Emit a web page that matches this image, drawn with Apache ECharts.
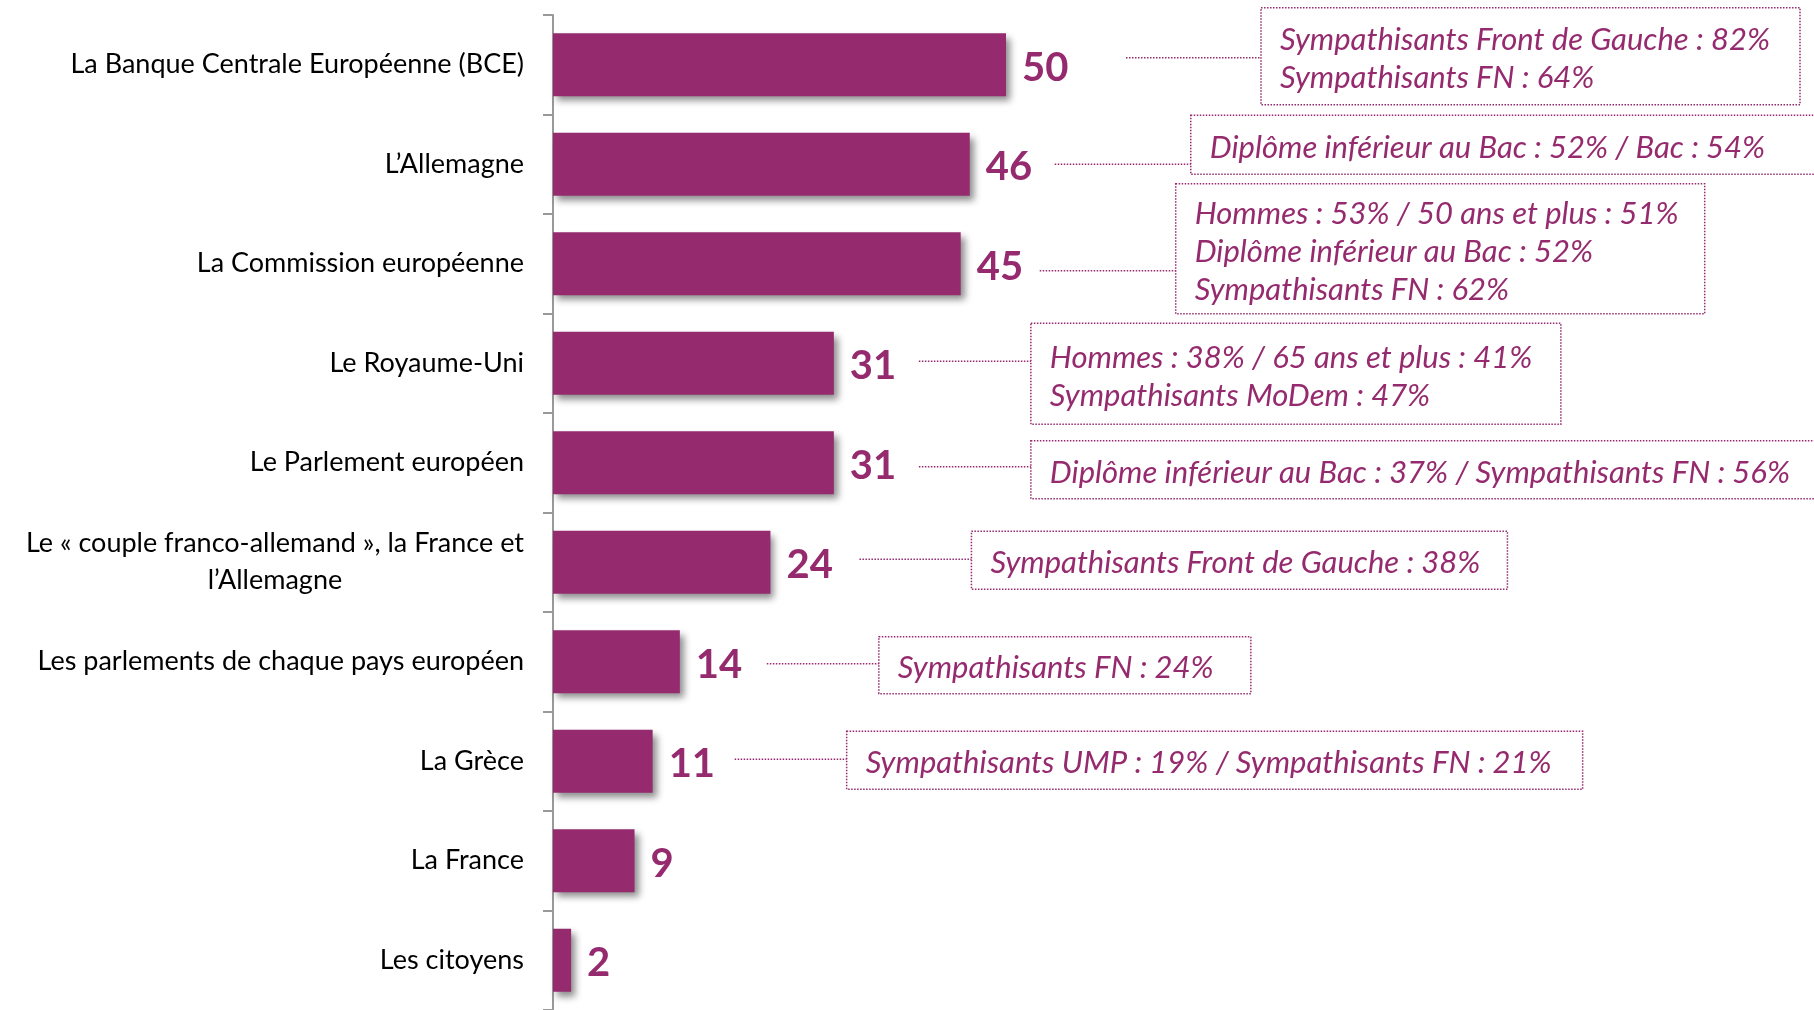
<!DOCTYPE html>
<html>
<head>
<meta charset="utf-8">
<script src="https://cdn.jsdelivr.net/npm/echarts@6/dist/echarts.min.js"></script>
<style>
  html, body { margin: 0; padding: 0; background: #fff; }
  #main { width: 1814px; height: 1010px; }
</style>
</head>
<body>
<div id="main"></div>
<script>
var categories = [
  'La Banque Centrale Européenne (BCE)',
  'L’Allemagne',
  'La Commission européenne',
  'Le Royaume-Uni',
  'Le Parlement européen',
  'Le « couple franco-allemand », la France et\nl’Allemagne',
  'Les parlements de chaque pays européen',
  'La Grèce',
  'La France',
  'Les citoyens'
];
var values = [50, 46, 45, 31, 31, 24, 14, 11, 9, 2];
var notes = [
  ['Sympathisants Front de Gauche : 82%', 'Sympathisants FN : 64%'],
  ['Diplôme inférieur au Bac : 52% / Bac : 54%'],
  ['Hommes : 53% / 50 ans et plus : 51%', 'Diplôme inférieur au Bac : 52%', 'Sympathisants FN : 62%'],
  ['Hommes : 38% / 65 ans et plus : 41%', 'Sympathisants MoDem : 47%'],
  ['Diplôme inférieur au Bac : 37% / Sympathisants FN : 56%'],
  ['Sympathisants Front de Gauche : 38%'],
  ['Sympathisants FN : 24%'],
  ['Sympathisants UMP : 19% / Sympathisants FN : 21%']
];

// placement of the callout boxes (pixels, relative to bar end / bar centre)
var leaderGap = [120, 85, 79, 85, 85, 89, 87, 82];
var leaderLen = [135, 136, 136, 112, 112, 112, 112, 112];
var leaderDy = [-7, 0, 7, -2, 4, -3, 2, -2];
var boxW = [539, 660, 529, 530, 820, 536, 372, 736];
var boxH = [97, 59, 130, 101, 58, 58, 57, 58];
var boxDy = [-57, -49, -80, -40, -22, -31, -25, -30];

var purple = '#952b6e';

var myChart = echarts.init(document.getElementById('main'));

myChart.setOption({
  backgroundColor: '#fff',
  animation: false,
  grid: { left: 553, top: 15, width: 906, height: 996 },
  xAxis: { type: 'value', min: 0, max: 100, show: false },
  yAxis: {
    type: 'category',
    inverse: true,
    data: categories,
    axisLine: { lineStyle: { color: '#999', width: 2 } },
    axisTick: { show: true, length: 10, lineStyle: { color: '#999', width: 2 } },
    axisLabel: {
      margin: 29,
      color: '#000',
      fontFamily: 'Lato',
      fontSize: 27,
      lineHeight: 37,
      formatter: function (v) {
        if (v.indexOf('\n') < 0) return v;
        return v.split('\n').map(function (s) { return '{c|' + s + '}'; }).join('\n');
      },
      rich: { c: { align: 'center', fontFamily: 'Lato', fontSize: 27, lineHeight: 37, color: '#000' } }
    }
  },
  series: [{
    type: 'bar',
    data: values,
    barWidth: 63,
    itemStyle: {
      color: purple,
      shadowColor: 'rgba(0,0,0,0.45)',
      shadowBlur: 7,
      shadowOffsetX: 4,
      shadowOffsetY: 5
    },
    label: {
      show: true,
      position: 'right',
      distance: 16,
      offset: [0, 3],
      color: purple,
      fontFamily: 'Lato',
      fontWeight: 'bold',
      fontSize: 40
    }
  }]
});

var elements = [];
notes.forEach(function (lines, i) {
  var xEnd = myChart.convertToPixel({ xAxisIndex: 0 }, values[i]);
  var yc = myChart.convertToPixel({ yAxisIndex: 0 }, i);
  var x0 = xEnd + leaderGap[i];
  var x1 = x0 + leaderLen[i];
  var top = yc + boxDy[i];
  elements.push({
    type: 'line',
    shape: { x1: x0, y1: yc + leaderDy[i], x2: x1, y2: yc + leaderDy[i] },
    style: { stroke: purple, lineWidth: 1.5, lineDash: [1.5, 1.5] }
  });
  elements.push({
    type: 'rect',
    shape: { x: x1, y: top, width: boxW[i], height: boxH[i] },
    style: { fill: 'none', stroke: purple, lineWidth: 1.5, lineDash: [1.5, 1.5] }
  });
  elements.push({
    type: 'text',
    x: x1 + 19,
    y: top + boxH[i] / 2 + 3,
    style: {
      text: lines.join('\n'),
      fill: purple,
      font: 'italic 31px Lato',
      lineHeight: 38,
      verticalAlign: 'middle',
      align: 'left'
    }
  });
});
myChart.setOption({ graphic: elements });

window.addEventListener('resize', function () {
  myChart.resize();
});
</script>
</body>
</html>
